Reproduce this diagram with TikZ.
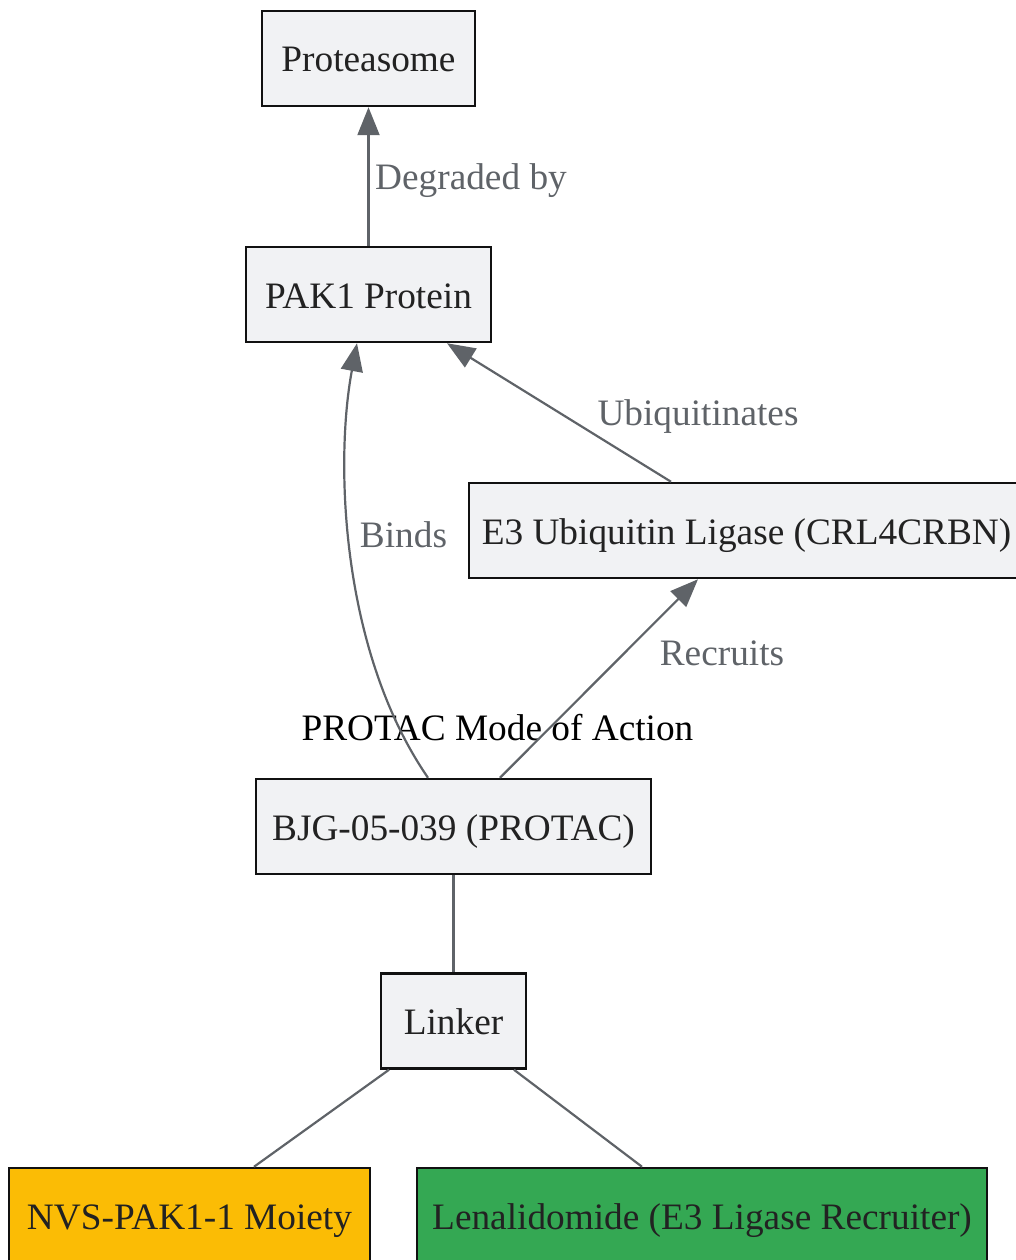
\documentclass[tikz,border=0pt]{standalone}
\usepackage{fontspec}
\setmainfont{Liberation Serif}
\usetikzlibrary{arrows.meta}

\definecolor{boxfill}{HTML}{F1F2F4}
\definecolor{boxline}{HTML}{111111}
\definecolor{boxtext}{HTML}{222222}
\definecolor{edgegrey}{HTML}{5F6368}
\definecolor{moietyyellow}{HTML}{FBBC05}
\definecolor{recruitgreen}{HTML}{34A853}

\tikzset{
  box/.style={draw=boxline, line width=2.5pt, fill=boxfill, text=boxtext, inner sep=0pt,
    text height=30pt, text depth=3pt, minimum height=95pt},
  flow/.style={draw=edgegrey, line width=2.2pt},
  push/.style={flow, -{Triangle[length=28pt, width=22pt]}},
  lbl/.style={text=edgegrey, inner sep=0pt}
}

\begin{document}
\begin{tikzpicture}[x=1pt, y=-1pt, font=\fontsize{37.3}{45}\selectfont]
				\useasboundingbox (0,0) rectangle (1015,1260);
				
				% boxes
				\node[box, minimum width=213pt] (prot) at (368.5,58.5) {Proteasome};
				\node[box, minimum width=245pt] (pak) at (368.5,294.5) {PAK1 Protein};
				\node[box, minimum width=555pt] (e3) at (746.5,530.5) {E3 Ubiquitin Ligase (CRL4CRBN)};
				\node[box, minimum width=395pt] (bjg) at (453.5,826.5) {BJG-05-039 (PROTAC)};
				\node[box, minimum width=145pt] (linker) at (453.5,1021) {Linker};
				\node[box, fill=moietyyellow, minimum width=361pt] (nvs) at (189.5,1215.5) {NVS-PAK1-1 Moiety};
				\node[box, fill=recruitgreen, minimum width=570pt] (len) at (702,1215.5) {Lenalidomide (E3 Ligase Recruiter)};
				
				% title
				\node[text=black] (title) at (497.5,728) {PROTAC Mode of Action};
				
				% arrows
				\draw[push] (pak) -- (prot);
				\draw[push] (671,0 |- e3.north) -- (447,0 |- pak.south);
				\draw[push] (428,0 |- bjg.north) .. controls (340,650) and (335,460) .. (357,0 |- pak.south);
				\draw[push] (500,0 |- bjg.north) -- (698,0 |- e3.south);
				
				% links
				\draw[flow] (bjg) -- (linker);
				\draw[flow] (389,0 |- linker.south) -- (254,0 |- nvs.north);
				\draw[flow] (514,0 |- linker.south) -- (642,0 |- len.north);
				
				% labels
				\node[lbl] (degradedlbl) at (471,181) {Degraded by};
				\node[lbl] (ubiqlbl) at (698,417) {Ubiquitinates};
				\node[lbl] (bindslbl) at (403.5,535) {Binds};
				\node[lbl] (recruitslbl) at (722,653) {Recruits};
				
			\end{tikzpicture}
\end{document}
